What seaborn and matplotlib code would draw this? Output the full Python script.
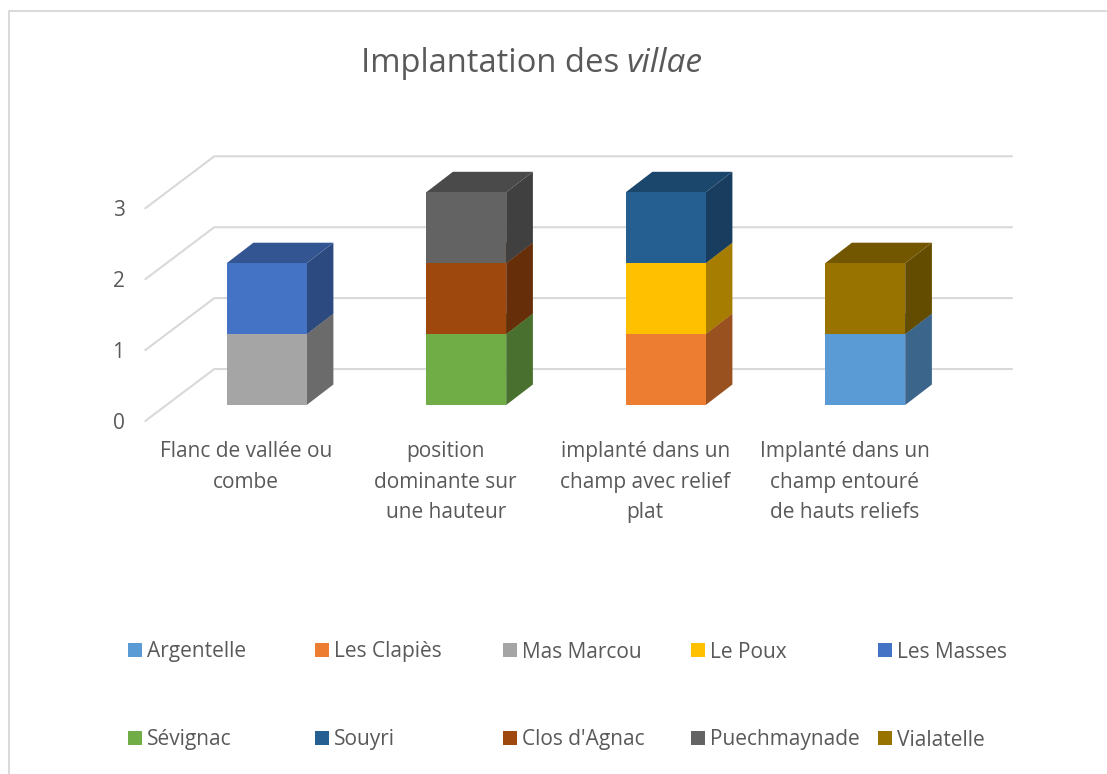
import numpy as np
import pandas as pd
import seaborn as sns
import matplotlib
matplotlib.use("Agg")
import matplotlib.pyplot as plt
from matplotlib.patches import Polygon, Rectangle
from matplotlib.lines import Line2D

categories = ["Flanc de vallée ou\ncombe",
              "position\ndominante sur\nune hauteur",
              "implanté dans un\nchamp avec relief\nplat",
              "Implanté dans un\nchamp entouré\nde hauts reliefs"]
series_names = ["Argentelle", "Les Clapiès", "Mas Marcou", "Le Poux", "Les Masses",
                "Sévignac", "Souyri", "Clos d'Agnac", "Puechmaynade", "Vialatelle"]
argentelle = [0, 0, 0, 1]
clapies = [0, 0, 1, 0]
mas_marcou = [1, 0, 0, 0]
le_poux = [0, 0, 1, 0]
les_masses = [1, 0, 0, 0]
sevignac = [0, 1, 0, 0]
souyri = [0, 0, 1, 0]
clos_agnac = [0, 1, 0, 0]
puechmaynade = [0, 1, 0, 0]
vialatelle = [0, 0, 0, 1]
series_values = [argentelle, clapies, mas_marcou, le_poux, les_masses,
                 sevignac, souyri, clos_agnac, puechmaynade, vialatelle]
colors = ["#5B9BD5", "#ED7D31", "#A5A5A5", "#FFC000", "#4472C4",
          "#70AD47", "#255E91", "#9E480E", "#636363", "#997300"]
y_ticks = [0, 1, 2, 3]

W, H = 1107, 774
PX_X = 199.5          # pixels per category
PX_Y = 70.9           # pixels per unit
X0, Y0 = 266.7, 405.0 # pixel position of category 0, value 0
AX_L, AX_R, AX_T, AX_B = 145.3, 1012.0, 120.0, 421.0

TEXT = "#595959"
GRID = "#D9D9D9"
FONT = "Open Sans"
FS = 15

sns.set_theme(style="white", rc={"font.family": FONT, "text.color": TEXT,
                                 "xtick.color": TEXT, "ytick.color": TEXT})
fig = plt.figure(figsize=(W / 100, H / 100), dpi=100, facecolor="white")
ax = fig.add_axes([AX_L / W, 1 - AX_B / H, (AX_R - AX_L) / W, (AX_B - AX_T) / H])
ax.patch.set_alpha(0)


def shade(c, f):
    r = np.array(matplotlib.colors.to_rgb(c)) * f
    return tuple(r)


# Depth of the bars and of the chart walls, as data offsets
bar_dx, bar_dy = 26.7 / PX_X, 20.5 / PX_Y
wall_dx, wall_dy = 69.0 / PX_X, 52.0 / PX_Y
front_y = (Y0 - AX_B) / PX_Y
left_x = (AX_L - X0) / PX_X
right_x = (AX_R - X0) / PX_X
bar_w = 80.0 / PX_X

# walls' gridlines
for v in y_ticks:
    ax.plot([left_x, left_x + wall_dx, right_x],
            [v + front_y, v + front_y + wall_dy, v + front_y + wall_dy],
            color=GRID, lw=1.5, zorder=1, clip_on=False, solid_joinstyle="miter")

# stacked front faces
bottoms = np.zeros(len(categories))
cat_pos = np.arange(len(categories))
for name, vals, col in zip(series_names, series_values, colors):
    vals = np.array(vals, dtype=float)
    df = pd.DataFrame({"cat": categories, "val": vals})
    sns.barplot(data=df, x="cat", y="val", order=categories, bottom=bottoms.copy(),
                color=col, saturation=1, width=bar_w, ax=ax, errorbar=None,
                linewidth=0, zorder=3)
    for i in np.nonzero(vals)[0]:
        xr = cat_pos[i] + bar_w / 2
        xl = cat_pos[i] - bar_w / 2
        b, t = bottoms[i], bottoms[i] + vals[i]
        ax.add_patch(Polygon([(xr, b), (xr + bar_dx, b + bar_dy), (xr + bar_dx, t + bar_dy), (xr, t)],
                             closed=True, facecolor=shade(col, 0.65), edgecolor="none", zorder=2.5))
        ax.add_patch(Polygon([(xl, t), (xl + bar_dx, t + bar_dy), (xr + bar_dx, t + bar_dy), (xr, t)],
                             closed=True, facecolor=shade(col, 0.75), edgecolor="none", zorder=2.5))
    bottoms += vals

ax.set_xlim(left_x, right_x)
ax.set_ylim(front_y, (Y0 - AX_T) / PX_Y)
for s in ax.spines.values():
    s.set_visible(False)
ax.set_xlabel("")
ax.set_ylabel("")
ax.set_xticks(cat_pos - 20.5 / PX_X)
ax.set_xticklabels(categories, fontsize=FS, color=TEXT, linespacing=1.6, ha="center")
ax.set_yticks(np.array(y_ticks) + (Y0 - 421.0) / PX_Y)
ax.set_yticklabels([str(v) for v in y_ticks], fontsize=FS, color=TEXT)
ax.tick_params(axis="x", length=0, pad=14.5)
ax.tick_params(axis="y", length=0, pad=15)

# chart border (left and top only are visible in the crop)
fig.add_artist(Line2D([8.5 / W, 8.5 / W, 1], [0, 1 - 10.5 / H, 1 - 10.5 / H],
                      color=GRID, lw=1.4, transform=fig.transFigure))

# title
fig.text(361 / W, 1 - 63 / H, "Implantation des", fontsize=23.6, color=TEXT,
         va="center", ha="left")
fig.text(626 / W, 1 - 63 / H, "villae", fontsize=24, color=TEXT, style="italic",
         va="center", ha="left")

# legend, one entry per grid cell, read row-wise
leg_x = [128, 315, 503, 691, 878]
leg_y = [652, 740]
for k, (name, col) in enumerate(zip(series_names, colors)):
    px, py = leg_x[k % 5], leg_y[k // 5]
    fig.legend(handles=[Rectangle((0, 0), 1, 1, facecolor=col, edgecolor="none")],
               labels=[name], loc="center left", bbox_to_anchor=(px / W, 1 - py / H),
               frameon=False, borderpad=0, borderaxespad=0, fontsize=FS,
               handlelength=0.67, handleheight=0.67, handletextpad=0.24,
               labelcolor=TEXT)

fig.savefig("out.png", dpi=100, facecolor="white")
